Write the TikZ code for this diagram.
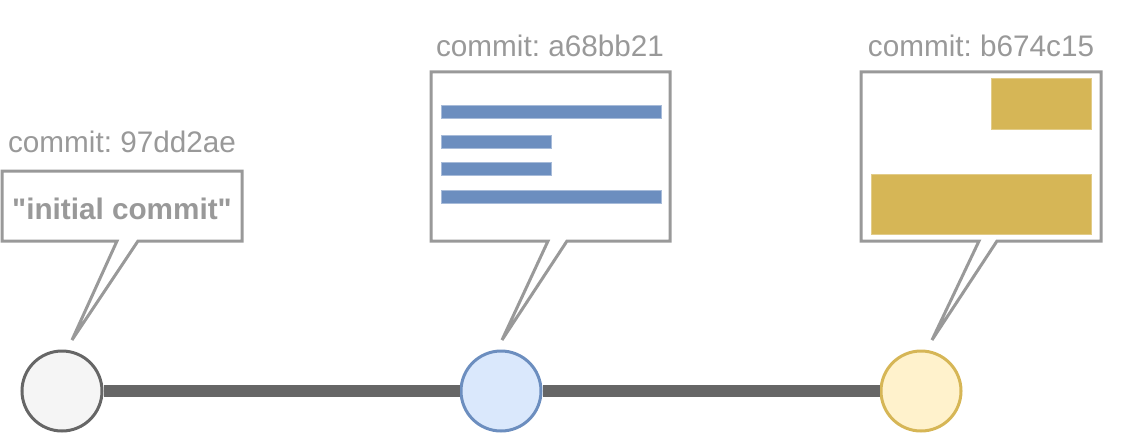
\documentclass[tikz,border=0pt]{standalone}
\usepackage{fontspec}
\setmainfont{Liberation Sans}
\frenchspacing
\definecolor{linegray}{HTML}{666666}
\definecolor{boxgray}{HTML}{999999}
\definecolor{gfill}{HTML}{F5F5F5}
\definecolor{bfill}{HTML}{DAE8FC}
\definecolor{bline}{HTML}{6C8EBF}
\definecolor{yfill}{HTML}{FFF2CC}
\definecolor{yline}{HTML}{D6B656}
\tikzset{
  commitnode/.style={circle, minimum size=80pt, inner sep=0pt, line width=3pt},
  callout/.style={draw=boxgray, fill=white, line width=3pt, line join=miter},
  commitlabel/.style={text=boxgray, font=\fontsize{29.7}{34}\selectfont, anchor=base, inner sep=0pt},
  bluebar/.style={fill=bline, draw=bline!60!white, line width=0.6pt},
  yellowblock/.style={fill=yline, draw=yline!70!white, line width=0.6pt}
}
\begin{document}
\begin{tikzpicture}[x=1pt, y=-1pt]
\useasboundingbox (0,0) rectangle (1121,433);
% commits
\node[commitnode, draw=linegray, fill=gfill] (c1) at (62,391) {};
\node[commitnode, draw=bline, fill=bfill] (c2) at (501,391) {};
\node[commitnode, draw=yline, fill=yfill] (c3) at (921,391) {};
\draw[line width=12pt, draw=linegray] (c1.east) -- (c2.west);
\draw[line width=12pt, draw=linegray] (c2.east) -- (c3.west);
% callout 1
\coordinate (t1) at (72,340);
\draw[callout] (2,171) -- (242,171) -- (242,241) -- (138,241) -- (t1) -- (117,241) -- (2,241) -- cycle;
\node[commitlabel, font=\fontsize{29.7}{34}\selectfont\bfseries] (m1) at (122,219) {\textquotedbl initial commit\textquotedbl};
\node[commitlabel] (l1) at (122,153) {commit: 97dd2ae};
% callout 2
\coordinate (t2) at (502,340);
\draw[callout] (431,72) -- (670,72) -- (670,241) -- (567,241) -- (t2) -- (548,241) -- (431,241) -- cycle;
\fill[bluebar] (441,105) rectangle (661,118);
\fill[bluebar] (441,135) rectangle (551,148);
\fill[bluebar] (441,162) rectangle (551,175);
\fill[bluebar] (441,190) rectangle (661,203);
\node[commitlabel] (l2) at (550,57) {commit: a68bb21};
% callout 3
\coordinate (t3) at (932,340);
\draw[callout] (861,72) -- (1101,72) -- (1101,241) -- (997,241) -- (t3) -- (979,241) -- (861,241) -- cycle;
\fill[yellowblock] (991,78) rectangle (1091,129);
\fill[yellowblock] (871,174) rectangle (1091,234);
\node[commitlabel] (l3) at (981,57) {commit: b674c15};
\end{tikzpicture}
\end{document}
